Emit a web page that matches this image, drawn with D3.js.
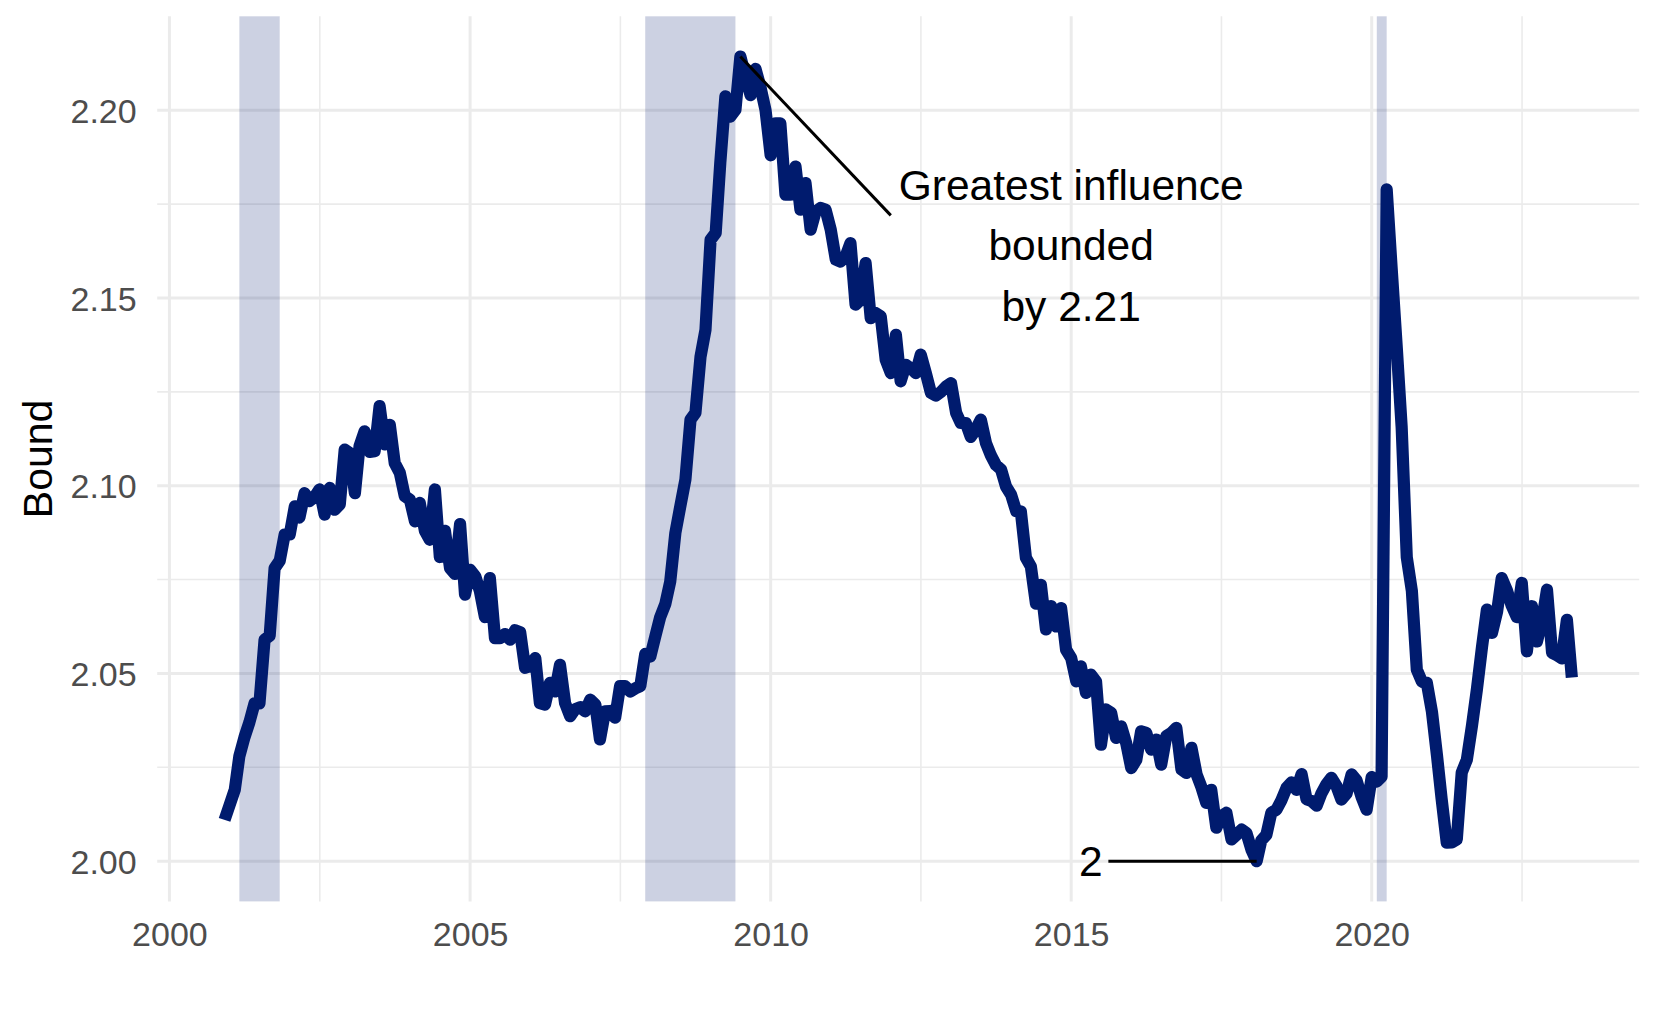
<!DOCTYPE html>
<html>
<head>
<meta charset="utf-8">
<script src="https://cdn.jsdelivr.net/npm/d3@7"></script>
<style>
  body { margin: 0; background: #ffffff; }
  svg { display: block; }
  text { font-family: "Liberation Sans", Arial, Helvetica, sans-serif; }
</style>
</head>
<body>
<svg id="chart" width="1661" height="1023"></svg>
<script>
// ---------------- data ----------------
const firstMonth = "2000-12";   // month of the first value; one value per month after that
const boundValues = [
  2.011,                                                                                   // 2000 Dec
  2.015, 2.019, 2.028, 2.033, 2.037, 2.042, 2.042, 2.059, 2.060, 2.078, 2.080, 2.087,       // 2001
  2.087, 2.0945, 2.0915, 2.098, 2.0959, 2.097, 2.099, 2.0923, 2.0994, 2.0936, 2.095, 2.1096, // 2002
  2.1087, 2.098, 2.1105, 2.1145, 2.109, 2.1092, 2.1212, 2.111, 2.1162, 2.106, 2.1034, 2.0972, // 2003
  2.0963, 2.0905, 2.0954, 2.088, 2.0856, 2.099, 2.081, 2.088, 2.078, 2.0765, 2.0898, 2.071,   // 2004
  2.0776, 2.0759, 2.072, 2.065, 2.0754, 2.0594, 2.0594, 2.0605, 2.059, 2.0615, 2.061, 2.0515, // 2005
  2.052, 2.0541, 2.0421, 2.0417, 2.0475, 2.0452, 2.0523, 2.0421, 2.0386, 2.0405, 2.041, 2.0399, // 2006
  2.043, 2.0417, 2.0324, 2.0399, 2.040, 2.0382, 2.0466, 2.0466, 2.0452, 2.046, 2.0466, 2.0552, // 2007
  2.0545, 2.060, 2.065, 2.0685, 2.0745, 2.0874, 2.0945, 2.1016, 2.1176, 2.1194, 2.1344, 2.1415, // 2008
  2.1655, 2.1673, 2.186, 2.2037, 2.1983, 2.2001, 2.2143, 2.209, 2.204, 2.211, 2.206, 2.200,   // 2009
  2.188, 2.1965, 2.1965, 2.1775, 2.1775, 2.185, 2.1735, 2.1806, 2.1682, 2.173, 2.174, 2.1735, // 2010
  2.1682, 2.1602, 2.1597, 2.161, 2.1646, 2.1482, 2.1495, 2.1593, 2.1446, 2.146, 2.1451, 2.1335, // 2011
  2.130, 2.1402, 2.1278, 2.1322, 2.1313, 2.130, 2.1349, 2.130, 2.1247, 2.124, 2.125, 2.1264,  // 2012
  2.1273, 2.1194, 2.1167, 2.1167, 2.113, 2.115, 2.1176, 2.1114, 2.108, 2.1055, 2.1043, 2.0998, // 2013
  2.0976, 2.0932, 2.0932, 2.0808, 2.0785, 2.0686, 2.0736, 2.0617, 2.0679, 2.0625, 2.0674, 2.0563, // 2014
  2.0541, 2.0479, 2.0519, 2.0448, 2.0497, 2.0479, 2.031, 2.0404, 2.0395, 2.0328, 2.0359, 2.0315, // 2015
  2.0248, 2.027, 2.0346, 2.0342, 2.0297, 2.0324, 2.0257, 2.0333, 2.0342, 2.0355, 2.0244, 2.0235, // 2016
  2.0302, 2.0231, 2.0199, 2.0155, 2.019, 2.0089, 2.012, 2.0129, 2.0058, 2.007, 2.0084, 2.0075, // 2017
  2.003, 2.000, 2.0055, 2.007, 2.0129, 2.0137, 2.0162, 2.0195, 2.021, 2.019, 2.0232, 2.0165,  // 2018
  2.016, 2.0148, 2.018, 2.0205, 2.0222, 2.020, 2.0164, 2.018, 2.0231, 2.0215, 2.017, 2.0137,  // 2019
  2.0224, 2.0212, 2.0225, 2.1789, 2.158, 2.137, 2.1156, 2.081, 2.072, 2.051, 2.0478, 2.0475,  // 2020
  2.0398, 2.028, 2.0165, 2.0049, 2.005, 2.0058, 2.0236, 2.027, 2.036, 2.0457, 2.057, 2.067,   // 2021
  2.0608, 2.0665, 2.0754, 2.0722, 2.068, 2.065, 2.0741, 2.0559, 2.0679, 2.0585, 2.064, 2.0723, // 2022
  2.0555, 2.0548, 2.054, 2.0643, 2.0489                                                      // 2023
];
const recessionStarts = ["2001-03-01", "2007-12-01", "2020-02-01"];
const recessionEnds   = ["2001-11-01", "2009-06-01", "2020-04-01"];
const xTickYears  = [2000, 2005, 2010, 2015, 2020];
const xTickLabels = ["2000", "2005", "2010", "2015", "2020"];
const yTickValues = [2.00, 2.05, 2.10, 2.15, 2.20];
const yTickLabels = ["2.00", "2.05", "2.10", "2.15", "2.20"];
const yAxisTitle = "Bound";
const peakNoteLines = ["Greatest influence", "bounded", "by 2.21"];
const peakNoteAt = { date: "2015-01-01", value: 2.164 };
const peakNoteLineEnd = { date: "2012-01-01", value: 2.172 };
const minNoteText = "2";
const minNoteAt = { date: "2015-05-01", value: 2.0 };
const minNoteLineStart = "2015-08-15";

// ---------------- layout ----------------
const W = 1661, H = 1023;
const panel = { left: 157.2, right: 1639.2, top: 16.3, bottom: 901.4 };
const navy = "#001b6e";
const gridColor = "#ebebeb";
const tickColor = "#4d4d4d";

const svg = d3.select("#chart");
svg.append("rect").attr("width", W).attr("height", H).attr("fill", "#ffffff");

const parseMonth = d3.utcParse("%Y-%m");
const parseDay = d3.utcParse("%Y-%m-%d");
const start = parseMonth(firstMonth);
const data = boundValues.map((v, i) => ({ date: d3.utcMonth.offset(start, i), value: v }));

// ggplot-like 5% expansion
const tExt = d3.extent(data, d => +d.date);
const tPad = (tExt[1] - tExt[0]) * 0.05;
const x = d3.scaleUtc()
  .domain([new Date(tExt[0] - tPad), new Date(tExt[1] + tPad)])
  .range([panel.left, panel.right]);
const vExt = d3.extent(data, d => d.value);
const vPad = (vExt[1] - vExt[0]) * 0.05;
const y = d3.scaleLinear()
  .domain([vExt[0] - vPad, vExt[1] + vPad])
  .range([panel.bottom, panel.top]);

// ---------------- grid ----------------
const grid = svg.append("g");
const majorDates = xTickYears.map(yr => new Date(Date.UTC(yr, 0, 1)));
const step = majorDates[1] - majorDates[0];
const extMajor = [new Date(+majorDates[0] - step), ...majorDates, new Date(+majorDates[majorDates.length - 1] + step)];
const minorDates = [];
for (let i = 0; i < extMajor.length - 1; i++) {
  const m = new Date((+extMajor[i] + +extMajor[i + 1]) / 2);
  if (m > x.domain()[0] && m < x.domain()[1]) minorDates.push(m);
}
const yStep = yTickValues[1] - yTickValues[0];
const minorVals = [];
for (let i = -1; i < yTickValues.length; i++) {
  const m = yTickValues[0] + (i + 0.5) * yStep;
  if (m > y.domain()[0] + 1e-4 && m < y.domain()[1] - 1e-4) minorVals.push(m);
}

grid.selectAll("line.hminor").data(minorVals).join("line")
  .attr("x1", panel.left).attr("x2", panel.right)
  .attr("y1", d => y(d)).attr("y2", d => y(d))
  .attr("stroke", gridColor).attr("stroke-width", 1.6);
grid.selectAll("line.vminor").data(minorDates).join("line")
  .attr("x1", d => x(d)).attr("x2", d => x(d))
  .attr("y1", panel.top).attr("y2", panel.bottom)
  .attr("stroke", gridColor).attr("stroke-width", 1.6);
grid.selectAll("line.hmajor").data(yTickValues).join("line")
  .attr("x1", panel.left).attr("x2", panel.right)
  .attr("y1", d => y(d)).attr("y2", d => y(d))
  .attr("stroke", gridColor).attr("stroke-width", 3);
grid.selectAll("line.vmajor").data(majorDates).join("line")
  .attr("x1", d => x(d)).attr("x2", d => x(d))
  .attr("y1", panel.top).attr("y2", panel.bottom)
  .attr("stroke", gridColor).attr("stroke-width", 3);

// ---------------- recession shading ----------------
const recessions = recessionStarts.map((s, i) => ({ s: parseDay(s), e: parseDay(recessionEnds[i]) }));
svg.append("g").selectAll("rect").data(recessions).join("rect")
  .attr("x", d => x(d.s))
  .attr("width", d => x(d.e) - x(d.s))
  .attr("y", panel.top)
  .attr("height", panel.bottom - panel.top)
  .attr("fill", navy)
  .attr("fill-opacity", 0.2);

// ---------------- line ----------------
const line = d3.line().x(d => x(d.date)).y(d => y(d.value));
svg.append("path")
  .datum(data)
  .attr("d", line)
  .attr("fill", "none")
  .attr("stroke", navy)
  .attr("stroke-width", 12.2)
  .attr("stroke-linejoin", "round")
  .attr("stroke-linecap", "butt");

// ---------------- annotations ----------------
const peak = data.reduce((a, b) => (b.value > a.value ? b : a));
const lowest = data.reduce((a, b) => (b.value < a.value ? b : a));
const ann = svg.append("g");
ann.append("line")
  .attr("x1", x(peak.date)).attr("y1", y(peak.value))
  .attr("x2", x(parseDay(peakNoteLineEnd.date))).attr("y2", y(peakNoteLineEnd.value))
  .attr("stroke", "#000").attr("stroke-width", 3);
ann.append("line")
  .attr("x1", x(parseDay(minNoteLineStart))).attr("y1", y(lowest.value))
  .attr("x2", x(lowest.date)).attr("y2", y(lowest.value))
  .attr("stroke", "#000").attr("stroke-width", 3);

const noteSize = 42.5;
const noteLineGap = 60.3;
const noteX = x(parseDay(peakNoteAt.date));
const noteY = y(peakNoteAt.value);
ann.selectAll("text.peak").data(peakNoteLines).join("text")
  .attr("x", noteX)
  .attr("y", (d, i) => noteY + 0.355 * noteSize + (i - (peakNoteLines.length - 1) / 2) * noteLineGap)
  .attr("text-anchor", "middle")
  .attr("font-size", noteSize)
  .attr("fill", "#000")
  .text(d => d);
ann.append("text")
  .attr("x", x(parseDay(minNoteAt.date)))
  .attr("y", y(minNoteAt.value) + 0.355 * noteSize)
  .attr("text-anchor", "middle")
  .attr("font-size", noteSize)
  .attr("fill", "#000")
  .text(minNoteText);

// ---------------- axes (ggplot theme_minimal look) ----------------
const tickSize = 34;
const yAxis = d3.axisLeft(y).tickValues(yTickValues).tickFormat((d, i) => yTickLabels[i]).tickSize(0).tickPadding(20.5);
const gy = svg.append("g").attr("transform", `translate(${panel.left},0)`).call(yAxis);
gy.select(".domain").remove();
gy.selectAll("text").attr("font-size", tickSize).attr("fill", tickColor)
  .attr("font-family", '"Liberation Sans", Arial, Helvetica, sans-serif')
  .attr("dy", "0.355em");

const xAxis = d3.axisBottom(x).tickValues(majorDates).tickFormat((d, i) => xTickLabels[i]).tickSize(0).tickPadding(0);
const gx = svg.append("g").attr("transform", `translate(0,${panel.bottom})`).call(xAxis);
gx.select(".domain").remove();
gx.selectAll("text").attr("font-size", tickSize).attr("fill", tickColor)
  .attr("font-family", '"Liberation Sans", Arial, Helvetica, sans-serif')
  .attr("y", 44.6).attr("dy", 0);

svg.append("text")
  .attr("transform", `translate(52,${(panel.top + panel.bottom) / 2}) rotate(-90)`)
  .attr("text-anchor", "middle")
  .attr("font-size", 41)
  .attr("fill", "#000")
  .text(yAxisTitle);
</script>
</body>
</html>
